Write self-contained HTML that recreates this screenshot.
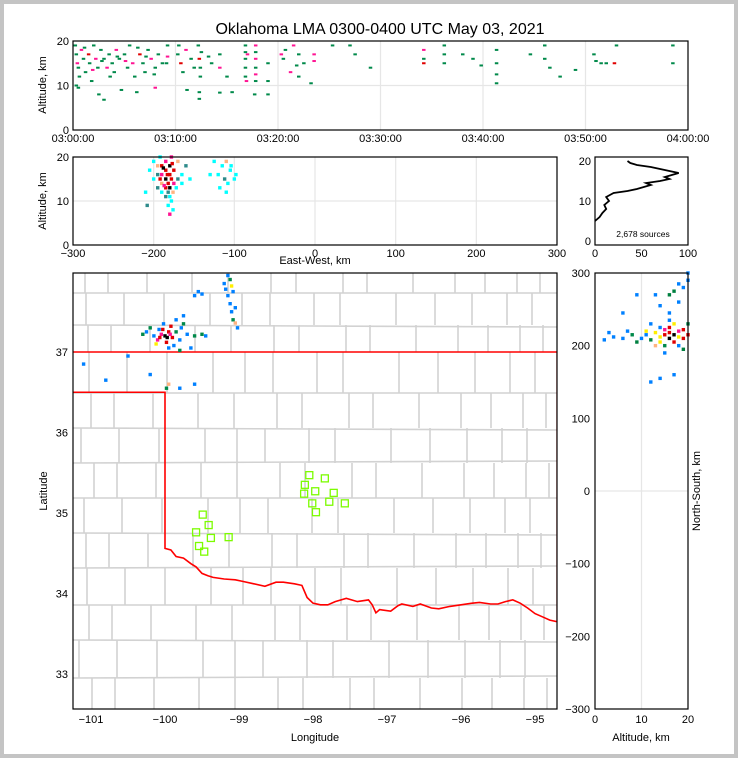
<!DOCTYPE html>
<html><head><meta charset="utf-8"><style>
html,body{margin:0;padding:0;background:#fff}
svg{display:block;font-family:"Liberation Sans","DejaVu Sans",sans-serif}
</style></head><body>
<svg id="fig" width="738" height="758" viewBox="0 0 738 758">
<rect x="0" y="0" width="738" height="758" fill="#c4c4c4"/>
<rect x="4" y="4" width="730" height="750" fill="#fff"/>
<text x="380" y="34" font-size="16" text-anchor="middle">Oklahoma LMA 0300-0400 UTC May 03, 2021</text>
<g id="layers"></g>
</svg>
<script>
// ---- data ----
const timeTicks=["03:00:00","03:10:00","03:20:00","03:30:00","03:40:00","03:50:00","04:00:00"];
const altTicks=[0,10,20];
const ewTicks=[-300,-200,-100,0,100,200,300];
const histXTicks=[0,50,100];
const lonTicks=[-101,-100,-99,-98,-97,-96,-95];
const latTicks=[33,34,35,36,37];
const nsTicks=[-300,-200,-100,0,100,200,300];
const nsAltTicks=[0,10,20];
const sourceCount="2,678 sources";
// time (min after 03:00), altitude (km), color code
const timeAltPoints="0.2,19,g 0.3,17,g 0.4,15,p 0.5,14,g 0.6,12,g 0.5,9.5,g 0.8,18,p 1,16,g 1.2,13,g 1.5,17,r 1.6,15,g 1.8,11,g 2,19,g 2.2,16,p 2.4,14,g 2.5,8,g 2.7,18,g 3,16,g 3,6.8,g 3.3,14,p 3.5,17,g 3.8,15,g 4,13,g 4.2,18,p 4.5,16,g 4.7,9,g 5,17,g 5.3,14,g 5.5,19,g 5.8,15,p 6,12,g 6.2,8.5,g 6.5,17,r 6.8,15,g 7,13,g 7.3,18,g 7.6,16,p 8,14,g 8,9.5,p 8.3,17,g 8.7,15,g 9.2,19,g 9.2,16.5,p 10.2,17,g 10.5,15,r 10.7,13,g 11.1,9,g 11,18,p 11.5,16,g 12.2,19,g 12.3,16,r 12.4,14,g 12.4,12,g 12.3,8.5,g 12.3,7,g 13.5,15,g 14.3,17,g 14.3,14,p 14.3,8.4,g 15,12,g 15.5,8.5,g 16.8,19,g 16.8,16,g 16.8,14,g 16.8,12,g 16.9,11,p 17,17,p 17.8,19,p 17.8,16,p 17.8,14,g 17.8,11,g 17.7,8,g 19,15,g 19,11,g 19,8,g 20.5,16,g 20.7,18,g 21.2,13,p 21.5,19,p 22,17,g 22,12,g 22.5,15,g 23.5,17,p 23.5,15.5,p 23.2,10.5,g 25.3,19,g 27,19,g 27.5,17,g 29,14,g 34.2,18,p 34.2,16,g 34.2,15,r 36.2,19,g 36.2,17,g 36.2,15,g 38,17,g 39,16,g 39.8,14.5,g 41.3,18,g 41.3,15,g 41.3,12.5,g 41.3,10.5,g 44.6,17,g 46,19,g 46,16,g 46.5,14,g 47.5,12,g 49,13.5,g 50.8,17,g 51,15.5,g 51.5,15,g 52,15,g 52.8,15,r 53,19,g 58.5,19,g 58.5,15,g 0.3,10,g 1.1,18.5,g 1.9,13.5,p 2.8,15.5,g 3.6,12,g 4.3,16.5,g 5.1,15.5,p 6.3,18.5,g 7.1,16.5,g 7.9,12.5,g 9.1,15,g 10.3,19,g 11.8,14,g 12.5,17.5,g 13.2,16.5,g 16.8,17.5,g 17.8,17.5,g 17.8,12.5,p 20.3,17,p 21.8,14.5,g";
const ewAltPoints="-200,19,c -195,18,o -190,18,r -185,19,p -180,18,k -175,17,r -185,17,r -190,16,p -180,16,r -195,16,t -200,15,c -185,15,k -178,15,r -170,15,t -190,14,o -182,14,r -175,14,p -165,14,c -195,13,t -185,13,r -180,13,k -172,13,c -190,12,c -182,12,t -176,12,o -185,11,t -180,11,c -178,10,c -182,9,c -176,8,c -180,7,p -205,17,c -210,12,c -208,9,t -160,18,t -165,16,c -170,19,o -192,20,c -178,20,p -155,15,c -188,17.5,k -183,16,r -177,18.5,r -192,15,r -187,13.5,p -120,16,c -115,18,c -110,19,o -105,17,c -100,15,c -112,15,t -108,14,c -118,13,c -104,18,c -98,16,c -110,12,c -125,19,c -130,16,c";
const histAlt=[5,6,7,8,9,10,11,12,12.5,13,14,14.5,15,15.5,16,17,17.5,18,18.5,19,19.5,20];
const histCount=[0,5,8,12,10,15,12,20,35,45,60,55,70,80,75,90,80,70,60,45,38,35];
const mapPoints="-100.0,37.2,k -99.95,37.25,r -100.05,37.22,p -99.9,37.18,r -100.1,37.15,p -99.98,37.12,r -100.08,37.28,b -99.85,37.25,g -100.15,37.2,b -100.2,37.3,g -99.8,37.15,b -99.92,37.32,r -100.02,37.35,b -100.12,37.1,y -99.88,37.08,b -99.75,37.35,g -99.7,37.22,b -99.6,37.2,g -99.5,37.22,g -99.45,37.2,b -99.78,37.3,b -100.25,37.25,b -99.95,37.05,b -99.85,37.4,b -100.3,37.22,g -99.8,37.02,g -99.65,37.05,b -99.75,37.45,b -99.97,37.18,k -100.03,37.28,r -99.93,37.22,p -100.07,37.18,r -99.15,37.95,b -99.12,37.9,g -99.2,37.85,b -99.1,37.82,y -99.18,37.78,b -99.08,37.75,b -99.15,37.7,b -99.12,37.6,b -99.05,37.55,b -99.1,37.5,b -99.08,37.4,g -99.05,37.36,o -99.02,37.3,b -99.55,37.75,b -99.6,37.7,b -99.5,37.72,b -100.5,36.95,b -100.8,36.65,b -99.95,36.6,o -99.98,36.55,g -99.8,36.55,b -99.6,36.6,b -100.2,36.72,b -101.1,36.85,b";
const stationLon=[-99.49,-99.41,-99.58,-99.38,-99.54,-99.47,-99.14,-98.05,-97.84,-98.11,-97.97,-98.12,-97.72,-98.01,-97.78,-97.57,-97.96];
const stationLat=[34.98,34.85,34.76,34.69,34.59,34.52,34.70,35.47,35.43,35.35,35.27,35.24,35.25,35.12,35.14,35.12,35.01];
const nsAltPoints="16,210,k 15,215,r 17,205,r 18,220,p 14,212,y 16,225,r 19,210,r 13,218,y 15,200,g 17,230,y 18,200,b 12,208,d 11,215,b 14,225,b 16,235,b 19,222,r 20,215,r 13,200,o 10,210,b 9,205,d 8,215,g 6,210,b 4,212,b 2,208,b 3,218,b 7,220,b 12,230,b 15,190,b 16,245,b 18,260,b 17,275,d 19,280,b 20,290,b 14,255,b 13,270,b 16,270,d 18,285,b 20,300,b 9,270,b 12,150,b 14,155,b 17,160,b 6,245,b 19,195,d 20,230,g 11,220,y 17,215,k 15,222,p 18,212,y 16,218,r 14,205,y";
const borderLon=[-101.24,-94.70];
const redRiver="-100.0,34.56 -99.92,34.54 -99.85,34.46 -99.75,34.44 -99.65,34.37 -99.58,34.33 -99.5,34.25 -99.42,34.22 -99.35,34.2 -99.2,34.18 -99.05,34.17 -98.95,34.15 -98.8,34.12 -98.65,34.09 -98.5,34.14 -98.4,34.14 -98.25,34.12 -98.15,34.1 -98.08,33.95 -98.0,33.88 -97.9,33.86 -97.8,33.86 -97.7,33.9 -97.55,33.94 -97.4,33.9 -97.25,33.92 -97.2,33.86 -97.15,33.76 -97.1,33.8 -96.95,33.78 -96.85,33.85 -96.8,33.87 -96.65,33.84 -96.55,33.87 -96.4,33.82 -96.3,33.81 -96.15,33.84 -96.0,33.86 -95.85,33.88 -95.75,33.89 -95.6,33.87 -95.5,33.87 -95.4,33.9 -95.3,33.92 -95.2,33.88 -95.1,33.82 -95.0,33.75 -94.9,33.71 -94.8,33.67 -94.7,33.65";
// ---- helpers ----
const NS="http://www.w3.org/2000/svg";
const root=document.getElementById('layers');
function mk(tag,attrs,parent){const e=document.createElementNS(NS,tag);for(const k in attrs)e.setAttribute(k,attrs[k]);(parent||root).appendChild(e);return e;}
function parsePts(s){return s.trim().split(/\s+/).map(t=>{const p=t.split(',');return[+p[0],+p[1],p[2]];});}
function lin(d0,d1,r0,r1){return v=>r0+(v-d0)*(r1-r0)/(d1-d0);}
const COL={g:'#00894a',p:'#ff1493',r:'#e00000',k:'#000',c:'#00ffff',t:'#2e8b8b',o:'#ffb380',b:'#0080ff',y:'#ffee00',d:'#008040'};
function frame(x,y,w,h,name){const r=mk('rect',{x:x,y:y,width:w,height:h,fill:'none',stroke:'#000','stroke-width':1.2});

}
function txt(x,y,s,anchor,size,name,rot){const t=mk('text',{x:x,y:y,'font-size':size||11,'text-anchor':anchor||'middle'});t.textContent=s;if(rot)t.setAttribute('transform','rotate('+rot+' '+x+' '+y+')');

return t;}
function gline(x1,y1,x2,y2,name,col,w){const l=mk('line',{x1:x1,y1:y1,x2:x2,y2:y2,stroke:col||'#e6e6e6','stroke-width':w||1.2});

return l;}

// ---- Panel 1 ----
(function(){const X0=73,X1=688,Y0=41,Y1=130;
const sx=lin(0,60,X0,X1),sy=lin(0,20,Y1,Y0);
timeTicks.forEach((t,i)=>{const x=sx(i*10);if(i>0&&i<6)gline(x,Y0,x,Y1,'time-gridline');txt(x,Y1+12,t,'middle',11,'time-tick-label');});
altTicks.forEach(a=>{const y=sy(a);if(a===10)gline(X0,y,X1,y,'alt-gridline');txt(X0-4,y+4,String(a),'end',11,'alt-tick-label');});
parsePts(timeAltPoints).forEach(p=>{const r=mk('rect',{x:sx(p[0])-1.5,y:sy(p[1])-1,width:3.5,height:2,fill:COL[p[2]]});

});
frame(X0,Y0,X1-X0,Y1-Y0,'time-height-panel');
txt(46,85,'Altitude, km','middle',11,'y-axis-title-time-height',-90);})();

// ---- Panel 2 ----
(function(){const X0=73,X1=557,Y0=157,Y1=245;
const sx=lin(-300,300,X0,X1),sy=lin(0,20,Y1,Y0);
ewTicks.forEach(v=>{const x=sx(v);if(v>-300&&v<300)gline(x,Y0,x,Y1,'ew-gridline');txt(x,Y1+12,String(v).replace('-','\u2212'),'middle',11,'ew-tick-label');});
altTicks.forEach(a=>{const y=sy(a);if(a===10)gline(X0,y,X1,y,'alt-gridline');txt(X0-4,y+4,String(a),'end',11,'alt-tick-label');});
parsePts(ewAltPoints).forEach(p=>{const r=mk('rect',{x:sx(p[0])-1.7,y:sy(p[1])-1.7,width:3.4,height:3.4,fill:COL[p[2]]});

});
frame(X0,Y0,X1-X0,Y1-Y0,'ew-height-panel');
txt(46,201,'Altitude, km','middle',11,'y-axis-title-ew-height',-90);
txt(315,264,'East-West, km','middle',11,'x-axis-title-east-west');})();

// ---- Panel 3 ----
(function(){const X0=595,X1=688,Y0=157,Y1=245;
const sx=lin(0,100,X0,X1),sy=lin(0,20,241,161);
histXTicks.forEach(v=>txt(sx(v),Y1+12,String(v),'middle',11,'hist-x-tick-label'));
altTicks.forEach(a=>txt(X0-4,sy(a)+4,String(a),'end',11,'hist-y-tick-label'));
const d=histAlt.map((a,i)=>(i?'L':'M')+sx(histCount[i]).toFixed(1)+' '+sy(a).toFixed(1)).join(' ');
const p=mk('path',{d:d,fill:'none',stroke:'#000','stroke-width':1.8});


txt(643,237,sourceCount,'middle',8.5,'source-count-label');
frame(X0,Y0,X1-X0,Y1-Y0,'histogram-panel');})();

// ---- Panel 4: map ----
(function(){const X0=73,X1=557,Y0=273,Y1=709;
const sx=lin(-101,-95,91,535),sy=lin(37,33,352,674);
mk('clipPath',{id:'mapclip'},mk('defs',{}));
const cp=document.getElementById('mapclip');mk('rect',{x:X0,y:Y0,width:X1-X0,height:Y1-Y0},cp);
const g=mk('g',{'clip-path':'url(#mapclip)'});


const rows=[273,293,325,352,393,428,463,498,533,568,605,640,678,709];
const colsA=[90,113,152,197,233,276,301,348,372,418,460,490,522,545];
const colsB=[84,122,162,208,240,268,312,338,394,433,470,505,530];
rows.forEach((y,i)=>{
 if(i>0&&i<rows.length-1&&y!==352)mk('line',{x1:X0,y1:y,x2:X1,y2:y+((i%3)-1)*2,stroke:'#d2d2d2','stroke-width':1.6},g);
 if(i<rows.length-1){const cols=(i%2)?colsB:colsA;const sh=((i*7)%11)-5;
  cols.forEach(x=>mk('line',{x1:x+sh,y1:y,x2:x+sh,y2:rows[i+1],stroke:'#d2d2d2','stroke-width':1.6},g));}
});
const rr=parsePts(redRiver.replace(/ /g,',x ')+',x');
let d='M'+sx(borderLon[0])+' '+sy(37)+' L'+sx(borderLon[1])+' '+sy(37)+' L'+sx(borderLon[1])+' '+sy(33.65);
for(let i=rr.length-1;i>=0;i--)d+=' L'+sx(rr[i][0]).toFixed(1)+' '+sy(rr[i][1]).toFixed(1);
d+=' L'+sx(-100)+' '+sy(36.5)+' L'+sx(borderLon[0])+' '+sy(36.5);
const sb=mk('path',{d:d,fill:'none',stroke:'#ff0000','stroke-width':1.6},g);


parsePts(mapPoints).forEach(p=>{const r=mk('rect',{x:sx(p[0])-1.7,y:sy(p[1])-1.7,width:3.4,height:3.4,fill:COL[p[2]]},g);

});
stationLon.forEach((lo,i)=>{const r=mk('rect',{x:sx(lo)-3.5,y:sy(stationLat[i])-3.5,width:7,height:7,fill:'none',stroke:'#7cfc00','stroke-width':1.3},g);

});
lonTicks.forEach(v=>txt(sx(v),Y1+14,String(v).replace('-','\u2212'),'middle',11,'lon-tick-label'));
latTicks.forEach(v=>txt(X0-5,sy(v)+4,String(v),'end',11,'lat-tick-label'));
frame(X0,Y0,X1-X0,Y1-Y0,'map-panel');
txt(315,741,'Longitude','middle',11,'x-axis-title-longitude');
txt(47,491,'Latitude','middle',11,'y-axis-title-latitude',-90);})();

// ---- Panel 5 ----
(function(){const X0=595,X1=688,Y0=273,Y1=709;
const sx=lin(0,20,X0,X1),sy=lin(-300,300,Y1,Y0);
gline(sx(10),Y0,sx(10),Y1,'ns-alt-gridline');gline(X0,sy(0),X1,sy(0),'ns-gridline');
nsTicks.forEach(v=>txt(X0-5,sy(v)+4,String(v).replace('-','\u2212'),'end',11,'ns-tick-label'));
nsAltTicks.forEach(v=>txt(sx(v),Y1+14,String(v),'middle',11,'ns-alt-tick-label'));
parsePts(nsAltPoints).forEach(p=>{const r=mk('rect',{x:sx(p[0])-1.7,y:sy(p[1])-1.7,width:3.4,height:3.4,fill:COL[p[2]]});

});
frame(X0,Y0,X1-X0,Y1-Y0,'ns-height-panel');
txt(641,741,'Altitude, km','middle',11,'x-axis-title-ns-altitude');
txt(700,491,'North-South, km','middle',11,'y-axis-title-north-south',-90);})();
</script>
</body></html>
